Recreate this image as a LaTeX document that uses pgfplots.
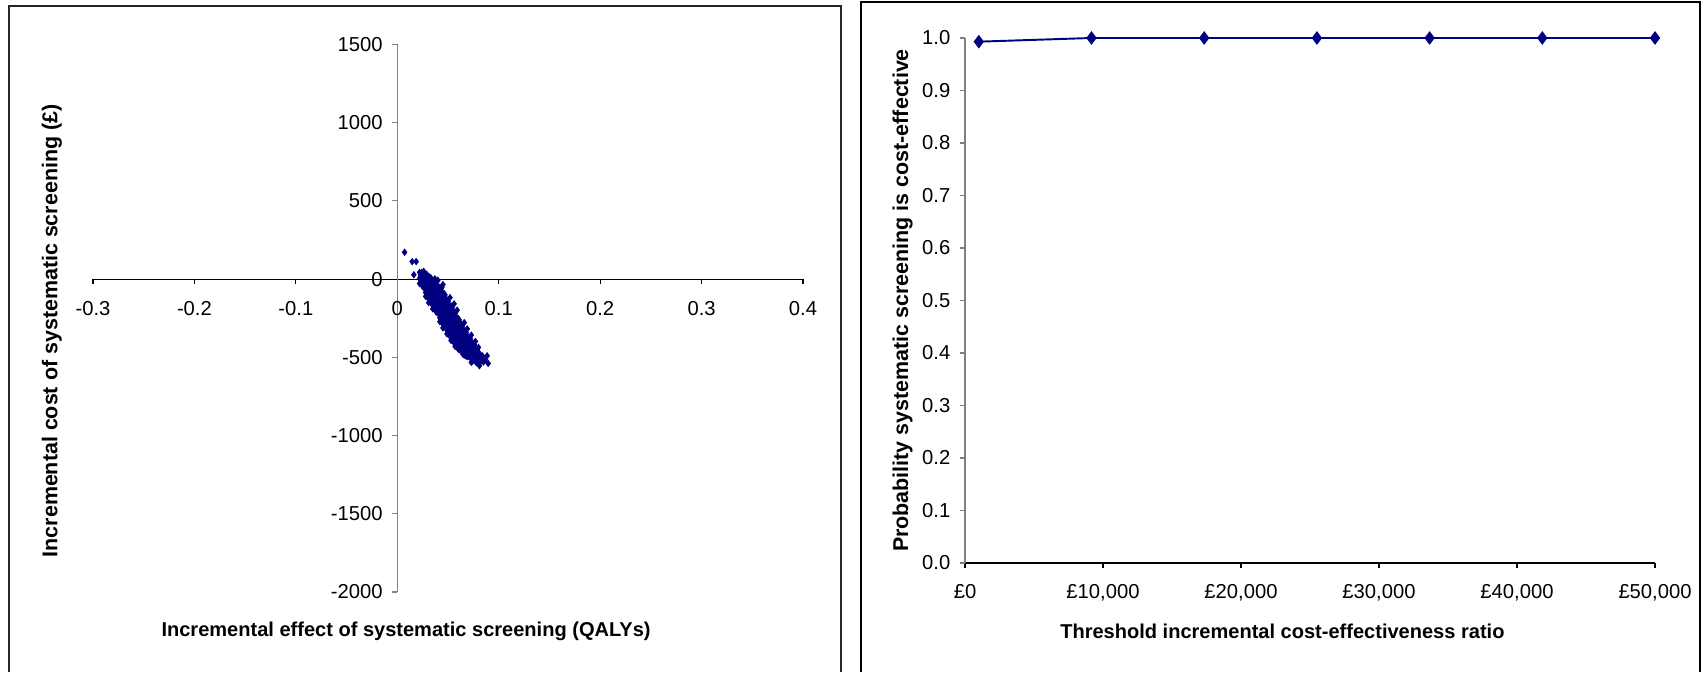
\documentclass[border=0pt]{standalone}
\usepackage{fontspec}
\setmainfont{Liberation Sans}
\usepackage{pgfplots}
\pgfplotsset{compat=1.18}
\definecolor{navy}{RGB}{0,0,128}
\definecolor{axgray}{RGB}{128,128,128}

\begin{document}
\begin{tikzpicture}
\path (0,0) rectangle (340.4mm,134.4mm);
% frames round the two charts
\draw[line width=0.85pt,black!85] (1.8mm,0) -- (1.8mm,133.2mm) -- (168.2mm,133.2mm) -- (168.2mm,0);
\draw[line width=1.4pt] (172.2mm,0) -- (172.2mm,134mm) -- (340mm,134mm) -- (340mm,0);

% cost-effectiveness plane
\begin{axis}[
    at={(18.6mm,16mm)}, anchor=south west,
    scale only axis, width=142mm, height=109.5mm,
    axis lines=middle,
    xmin=-0.3, xmax=0.4, ymin=-2000, ymax=1500,
    enlargelimits=false,
    hide obscured x ticks=false, hide obscured y ticks=false,
    xtick={-0.3,-0.2,-0.1,0,0.1,0.2,0.3,0.4},
    xticklabels={-0.3,-0.2,-0.1,0,0.1,0.2,0.3,0.4},
    ytick={-2000,-1500,-1000,-500,0,500,1000,1500},
    yticklabels={-2000,-1500,-1000,-500,0,500,1000,1500},
    tick align=outside, major tick length=1mm,
    x axis line style={-,black,line width=0.6pt},
    y axis line style={-,axgray,line width=0.6pt},
    xtick style={black,line width=0.6pt},
    ytick style={axgray,line width=0.6pt},
    tick label style={font=\fontsize{11.5pt}{13pt}\selectfont},
    xticklabel style={yshift=-2.2mm},
    yticklabel style={xshift=-0.7mm},
    xlabel={Incremental effect of systematic screening (QALYs)},
    ylabel={Incremental cost of systematic screening (£)},
    every axis x label/.style={at={(axis description cs:0.441,-0.0822)},anchor=base,
        font=\fontsize{11.4pt}{14pt}\selectfont\bfseries},
    every axis y label/.style={at={(axis description cs:-0.050,0.477)},anchor=base,rotate=90,
        font=\fontsize{12.2pt}{14pt}\selectfont\bfseries},
]
\addplot[only marks, mark=diamond*, mark size=1.8pt, color=navy, mark options={fill=navy,draw=navy}] coordinates {
(0.0072,172) (0.0147,112) (0.0186,112) (0.0163,28) (0.022,43) (0.026,50)
(0.024,43) (0.027,36) (0.029,31)
(0.023,24) (0.026,15) (0.028,27) (0.031,18) (0.033,9)
(0.022,4) (0.025,-6) (0.028,9) (0.030,-3) (0.032,6) (0.035,-10) (0.037,2)
(0.026,-8) (0.029,-16) (0.033,-5) (0.036,-18) (0.040,-7)
(0.024,-14) (0.027,-25) (0.030,-11) (0.032,-28) (0.034,-17) (0.037,-22) (0.039,-13)
(0.022,-28) (0.045,-35)
(0.025,-46) (0.028,-33) (0.031,-51) (0.0335,-38) (0.036,-44) (0.038,-31) (0.041,-49) (0.0295,-42)
(0.027,-48) (0.031,-56) (0.036,-47) (0.039,-58) (0.044,-52)
(0.026,-55) (0.029,-67) (0.032,-58) (0.035,-64) (0.037,-53) (0.040,-70) (0.043,-61) (0.0335,-72)
(0.028,-86) (0.031,-74) (0.034,-90) (0.037,-78) (0.0395,-85) (0.042,-73) (0.045,-88) (0.0355,-83)
(0.029,-92) (0.033,-97) (0.038,-88) (0.042,-95) (0.046,-91)
(0.030,-95) (0.033,-108) (0.036,-99) (0.0385,-104) (0.041,-93) (0.0435,-110) (0.047,-101) (0.040,-112)
(0.028,-110) (0.052,-118)
(0.031,-126) (0.034,-114) (0.037,-129) (0.040,-117) (0.0425,-124) (0.045,-115) (0.048,-130) (0.0385,-121)
(0.032,-128) (0.036,-136) (0.041,-127) (0.045,-138) (0.049,-132)
(0.033,-135) (0.036,-148) (0.039,-139) (0.042,-144) (0.0445,-133) (0.047,-150) (0.050,-141) (0.041,-152)
(0.031,-150) (0.056,-158)
(0.035,-166) (0.038,-154) (0.041,-169) (0.044,-157) (0.0465,-164) (0.049,-155) (0.052,-170) (0.0425,-161)
(0.035,-168) (0.040,-176) (0.044,-167) (0.048,-178) (0.053,-171)
(0.036,-175) (0.039,-188) (0.042,-179) (0.0455,-184) (0.048,-173) (0.051,-190) (0.054,-181) (0.044,-192)
(0.035,-190) (0.059,-198)
(0.038,-206) (0.041,-194) (0.044,-209) (0.047,-197) (0.0495,-204) (0.052,-195) (0.056,-210) (0.046,-201)
(0.039,-212) (0.043,-217) (0.048,-208) (0.052,-216) (0.057,-213)
(0.040,-215) (0.043,-228) (0.046,-219) (0.049,-224) (0.0515,-213) (0.054,-230) (0.057,-221) (0.048,-232)
(0.042,-246) (0.045,-234) (0.048,-249) (0.051,-237) (0.0535,-244) (0.056,-235) (0.059,-250) (0.0495,-241)
(0.043,-252) (0.047,-256) (0.052,-247) (0.056,-258) (0.060,-251)
(0.043,-255) (0.046,-268) (0.049,-259) (0.0525,-264) (0.055,-253) (0.058,-270) (0.061,-261) (0.051,-272)
(0.042,-272) (0.066,-278)
(0.045,-286) (0.048,-274) (0.051,-289) (0.054,-277) (0.0565,-284) (0.059,-275) (0.063,-290) (0.053,-281)
(0.046,-292) (0.050,-297) (0.055,-288) (0.059,-296) (0.064,-293)
(0.047,-295) (0.050,-308) (0.053,-299) (0.056,-304) (0.0585,-293) (0.061,-310) (0.064,-301) (0.055,-312)
(0.045,-312) (0.069,-318)
(0.049,-326) (0.052,-314) (0.055,-329) (0.058,-317) (0.0605,-324) (0.063,-315) (0.066,-330) (0.0565,-321)
(0.050,-332) (0.054,-337) (0.059,-328) (0.063,-336) (0.067,-331)
(0.050,-335) (0.053,-348) (0.057,-339) (0.0595,-344) (0.062,-333) (0.065,-350) (0.068,-341) (0.058,-352)
(0.049,-350) (0.073,-358)
(0.052,-366) (0.055,-354) (0.058,-369) (0.0615,-357) (0.064,-364) (0.067,-355) (0.070,-370) (0.060,-361)
(0.053,-372) (0.057,-377) (0.062,-368) (0.066,-376) (0.071,-373)
(0.054,-375) (0.057,-388) (0.060,-379) (0.063,-384) (0.066,-373) (0.069,-390) (0.072,-381) (0.0615,-392)
(0.053,-392) (0.077,-398)
(0.056,-406) (0.059,-394) (0.062,-409) (0.065,-397) (0.068,-404) (0.071,-395) (0.074,-410) (0.0635,-401)
(0.057,-412) (0.061,-417) (0.066,-408) (0.070,-416) (0.075,-411)
(0.058,-415) (0.061,-428) (0.064,-419) (0.067,-424) (0.0695,-413) (0.072,-430) (0.076,-421) (0.0655,-432)
(0.057,-430) (0.080,-436)
(0.060,-446) (0.063,-434) (0.066,-449) (0.0685,-437) (0.071,-444) (0.074,-435) (0.077,-450) (0.067,-441)
(0.061,-452) (0.065,-457) (0.070,-448) (0.074,-456) (0.079,-451)
(0.063,-455) (0.066,-468) (0.069,-459) (0.072,-464) (0.075,-453) (0.078,-470) (0.0705,-472)
(0.066,-486) (0.069,-474) (0.072,-489) (0.075,-477) (0.078,-484) (0.081,-475)
(0.068,-492) (0.071,-497) (0.075,-488) (0.080,-496) (0.084,-491)
(0.069,-495) (0.073,-508) (0.076,-499) (0.079,-504) (0.082,-493)
(0.074,-526) (0.077,-515) (0.080,-522) (0.083,-514)
(0.073,-532) (0.078,-535) (0.082,-528)
(0.0645,-478) (0.081,-554) (0.0886,-490) (0.0896,-539) (0.085,-530) (0.087,-515)
};
\end{axis}

% acceptability curve
\begin{axis}[
    at={(193mm,21.8mm)}, anchor=south west,
    scale only axis, width=138mm, height=105mm,
    axis lines=left,
    xmin=0, xmax=50000, ymin=0, ymax=1,
    enlargelimits=false, clip=false,
    scaled x ticks=false, scaled y ticks=false,
    xtick={0,10000,20000,30000,40000,50000},
    xticklabels={{£0},{£10,000},{£20,000},{£30,000},{£40,000},{£50,000}},
    ytick={0,0.1,0.2,0.3,0.4,0.5,0.6,0.7,0.8,0.9,1},
    yticklabels={0.0,0.1,0.2,0.3,0.4,0.5,0.6,0.7,0.8,0.9,1.0},
    tick align=outside, major tick length=1mm,
    x axis line style={-,black,line width=0.6pt},
    y axis line style={-,axgray,line width=0.6pt},
    xtick style={black,line width=0.6pt},
    ytick style={axgray,line width=0.6pt},
    tick label style={font=\fontsize{11.5pt}{13pt}\selectfont},
    xticklabel style={yshift=-2.1mm},
    yticklabel style={xshift=-0.7mm},
    xlabel={Threshold incremental cost-effectiveness ratio},
    ylabel={Probability systematic screening is cost-effective},
    every axis x label/.style={at={(axis description cs:0.46,-0.143)},anchor=base,
        font=\fontsize{11.4pt}{14pt}\selectfont\bfseries},
    every axis y label/.style={at={(axis description cs:-0.0826,0.5)},anchor=base,rotate=90,
        font=\fontsize{12.2pt}{14pt}\selectfont\bfseries},
]
\addplot[color=navy, line width=1.1pt, mark=diamond*, mark size=3pt, mark options={fill=navy,draw=navy}] coordinates {
(1000,0.993) (9167,1) (17333,1) (25500,1) (33667,1) (41833,1) (50000,1)
};
\end{axis}
\end{tikzpicture}
\end{document}
